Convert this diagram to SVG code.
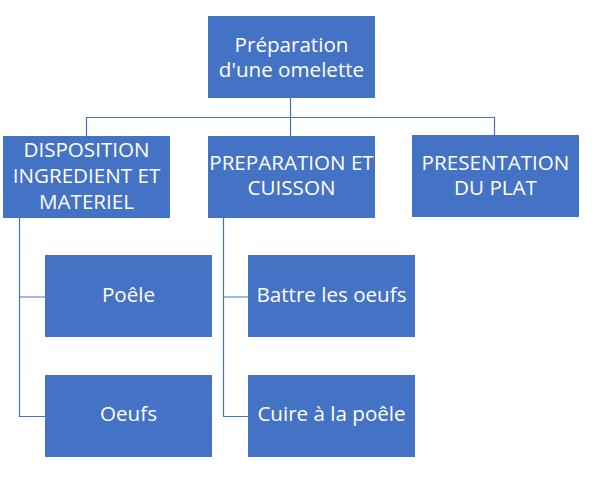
<svg xmlns="http://www.w3.org/2000/svg" width="600" height="488" viewBox="0 0 600 488">
<style>
.box{fill:#4472C4}
.t{font-family:"Open Sans","Noto Sans","DejaVu Sans",sans-serif;font-size:20.6px;fill:#ffffff;text-anchor:middle}
.c{fill:none;stroke:#4472C4;stroke-width:1.2}
</style>
<rect width="600" height="488" fill="#ffffff"/>
<g id="connectors">
<path class="c" d="M290.5 98 V136 M86.5 136 V117.5 H494.5 V135"/>
<path class="c" d="M19.5 218 V416.5 H45 M19.5 297 H45"/>
<path class="c" d="M223.5 218 V416.5 H248 M223.5 297 H248"/>
</g>
<g id="root"><rect class="box" x="208" y="16" width="167" height="82"/>
<text class="t" x="291.5" y="51.5">Préparation</text><text class="t" x="291.5" y="76.5">d'une omelette</text></g>
<g id="disposition"><rect class="box" x="3" y="136" width="167" height="82"/>
<text class="t" x="86.5" y="156.5">DISPOSITION</text><text class="t" x="86.5" y="182.5">INGREDIENT ET</text><text class="t" x="86.5" y="208.5">MATERIEL</text></g>
<g id="preparation"><rect class="box" x="208" y="136" width="167" height="82"/>
<text class="t" x="291.5" y="169.5">PREPARATION ET</text><text class="t" x="291.5" y="195">CUISSON</text></g>
<g id="presentation"><rect class="box" x="412" y="135" width="167" height="82"/>
<text class="t" x="495.5" y="169.5">PRESENTATION</text><text class="t" x="495.5" y="195">DU PLAT</text></g>
<g id="poele"><rect class="box" x="45" y="255" width="167" height="82"/>
<text class="t" x="128.5" y="302">Poêle</text></g>
<g id="oeufs"><rect class="box" x="45" y="375" width="167" height="82"/>
<text class="t" x="128.5" y="421">Oeufs</text></g>
<g id="battre"><rect class="box" x="248" y="255" width="167" height="82"/>
<text class="t" x="331.5" y="302">Battre les oeufs</text></g>
<g id="cuire"><rect class="box" x="248" y="375" width="167" height="82"/>
<text class="t" x="331.5" y="421">Cuire à la poêle</text></g>
</svg>
